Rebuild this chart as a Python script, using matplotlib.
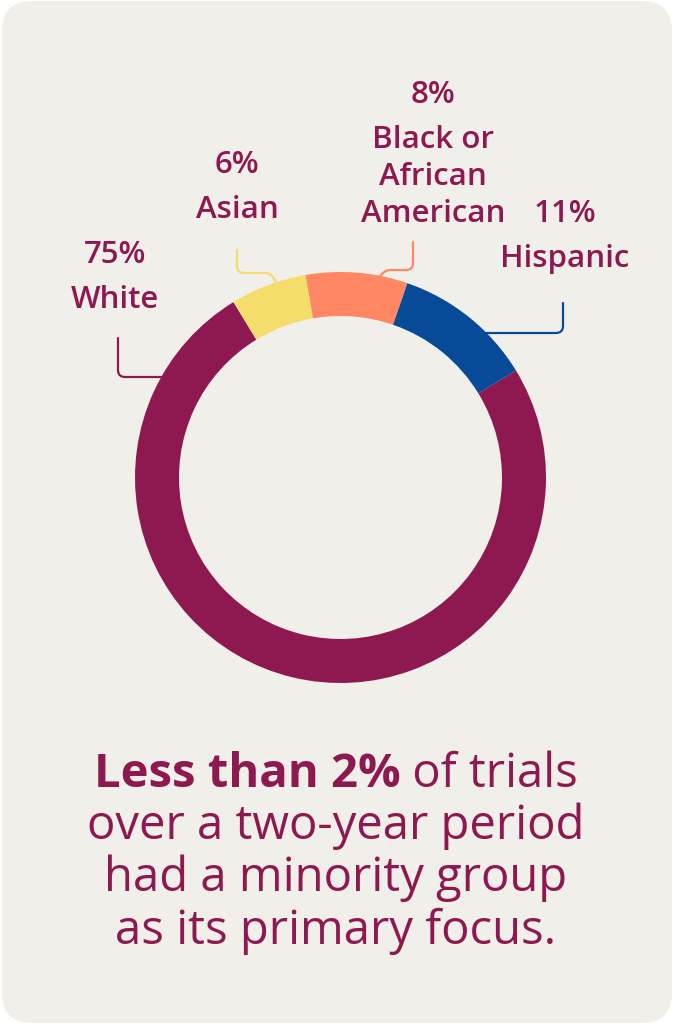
import matplotlib.pyplot as plt
from matplotlib.patches import FancyBboxPatch, PathPatch
from matplotlib.path import Path

# data
groups = ['White', 'Asian', 'Black or\nAfrican\nAmerican', 'Hispanic']
shares = [75, 6, 8, 11]
colors = ['#8E1850', '#F4DD6A', '#FF8763', '#074A97']

headline_bold = 'Less than 2%'
headline_rest = ' of trials'
headline_lines = ['over a two-year period', 'had a minority group', 'as its primary focus.']

W, H = 673, 1024
WINE = '#8E1850'
BG = '#F1EFEA'
FONT = 'Open Sans'


def py(y):
    # pixel row (from top) -> data y
    return H - y


fig = plt.figure(figsize=(W / 100, H / 100), dpi=100, facecolor='white')
ax = fig.add_axes([0, 0, 1, 1])

card = FancyBboxPatch((2, 1), W - 3, H - 2, boxstyle='round,pad=0,rounding_size=30',
                      facecolor=BG, edgecolor='none', zorder=0)
ax.add_patch(card)

# donut
ax.pie(shares, colors=colors, startangle=31.4, counterclock=False,
       radius=205.5, center=(340.5, py(477.5)),
       wedgeprops=dict(width=44, edgecolor='none'), frame=True)
ax.set_xlim(0, W)
ax.set_ylim(0, H)
ax.set_aspect('equal')
ax.axis('off')


def leader(points, color, r=7):
    # polyline with rounded corners
    pts = [(x, py(y)) for x, y in points]
    verts = [pts[0]]
    codes = [Path.MOVETO]
    for i in range(1, len(pts) - 1):
        p0, p1, p2 = pts[i - 1], pts[i], pts[i + 1]
        d1 = ((p1[0] - p0[0]) ** 2 + (p1[1] - p0[1]) ** 2) ** 0.5
        d2 = ((p2[0] - p1[0]) ** 2 + (p2[1] - p1[1]) ** 2) ** 0.5
        rr = min(r, d1 / 2, d2 / 2)
        a = (p1[0] - (p1[0] - p0[0]) * rr / d1, p1[1] - (p1[1] - p0[1]) * rr / d1)
        b = (p1[0] + (p2[0] - p1[0]) * rr / d2, p1[1] + (p2[1] - p1[1]) * rr / d2)
        verts += [a, p1, b]
        codes += [Path.LINETO, Path.CURVE3, Path.CURVE3]
    verts.append(pts[-1])
    codes.append(Path.LINETO)
    ax.add_patch(PathPatch(Path(verts, codes), facecolor='none', edgecolor=color,
                           lw=1.6, capstyle='round', joinstyle='round', zorder=1))


leader([(118, 338), (118, 377), (162, 377)], colors[0])
leader([(237, 250), (237, 273), (271, 273), (277, 284)], colors[1])
leader([(413, 242), (413, 270), (385, 270), (378, 279)], colors[2])
leader([(563, 303), (563, 333), (486, 333)], colors[3])

# labels: (x center, baseline of percentage line)
label_pos = [(115, 263), (237, 173), (433, 103), (565, 222)]
lab_kw = dict(color=WINE, fontsize=22.5, family=FONT, fontweight='semibold',
              ha='center', va='baseline')
for (x, yb), g, s in zip(label_pos, groups, shares):
    ax.text(x, py(yb), f'{s}%', **lab_kw)
    for k, part in enumerate(g.split('\n')):
        ax.text(x, py(yb + 45 + k * 37), part, **lab_kw)

# headline
head_kw = dict(color=WINE, fontsize=34, family=FONT, va='baseline')
cx = 336
renderer = fig.canvas.get_renderer()
t1 = ax.text(0, py(787), headline_bold, fontweight='bold', ha='left', **head_kw)
t2 = ax.text(0, py(787), headline_rest, ha='left', **head_kw)
w1 = t1.get_window_extent(renderer).width
w2 = t2.get_window_extent(renderer).width
x0 = cx - (w1 + w2) / 2
t1.set_x(x0)
t2.set_x(x0 + w1)
for k, line in enumerate(headline_lines):
    ax.text(cx, py(839 + k * 52.5), line, ha='center', **head_kw)

fig.savefig('out.png', dpi=100, facecolor='white')
